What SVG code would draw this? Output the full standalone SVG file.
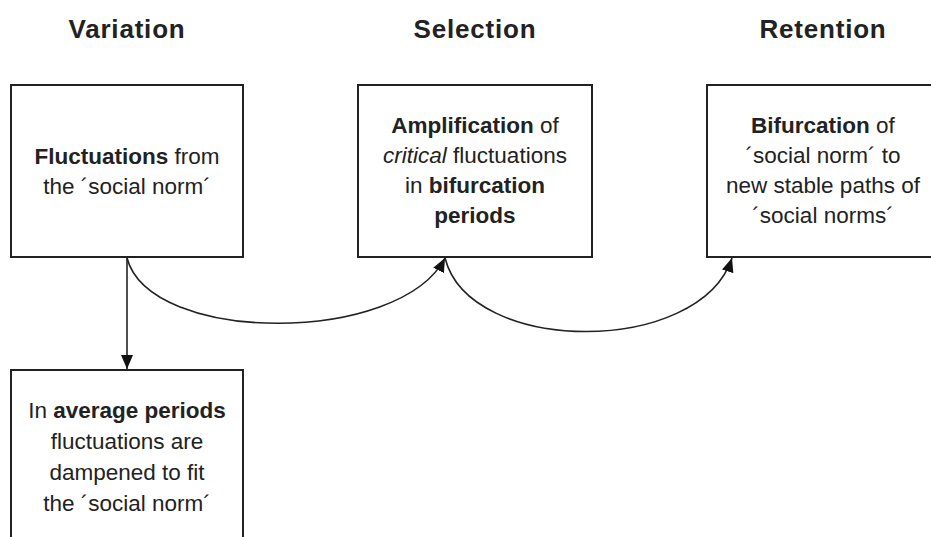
<svg xmlns="http://www.w3.org/2000/svg" width="931" height="537" viewBox="0 0 931 537">
<style>
.box{fill:#fff;stroke:#222;stroke-width:2}
.t{font-family:"Liberation Sans",Arial,sans-serif;font-size:22.5px;fill:#222;text-anchor:middle}
.h{font-family:"Liberation Sans",Arial,sans-serif;font-size:26px;font-weight:bold;fill:#222;text-anchor:middle;letter-spacing:0.8px}
.b{font-weight:bold}
.i{font-style:italic}
.c{fill:none;stroke:#222;stroke-width:1.6}
</style>
<defs>
<marker id="ah" markerWidth="14" markerHeight="12" refX="14" refY="6" orient="auto" markerUnits="userSpaceOnUse">
<path d="M0,0 L14,6 L0,12 Z" fill="#111"/>
</marker>
</defs>
<g id="titles">
<text class="h" x="127" y="38">Variation</text>
<text class="h" x="475" y="38">Selection</text>
<text class="h" x="823" y="38">Retention</text>
</g>
<g id="n1">
<rect class="box" x="11" y="85" width="232" height="172"/>
<text class="t" x="127" y="164"><tspan class="b">Fluctuations</tspan> from</text>
<text class="t" x="127" y="194">the ´social norm´</text>
</g>
<g id="n2">
<rect class="box" x="358" y="85" width="234" height="172"/>
<text class="t" x="475" y="133"><tspan class="b">Amplification</tspan> of</text>
<text class="t" x="475" y="163"><tspan class="i">critical</tspan> fluctuations</text>
<text class="t" x="475" y="193">in <tspan class="b">bifurcation</tspan></text>
<text class="t b" x="475" y="223">periods</text>
</g>
<g id="n3">
<rect class="box" x="707" y="85" width="234" height="172"/>
<text class="t" x="823" y="133"><tspan class="b">Bifurcation</tspan> of</text>
<text class="t" x="823" y="163">´social norm´ to</text>
<text class="t" x="823" y="193">new stable paths of</text>
<text class="t" x="823" y="223">´social norms´</text>
</g>
<g id="n4">
<rect class="box" x="11" y="370" width="232" height="180"/>
<text class="t" x="127" y="418">In <tspan class="b">average periods</tspan></text>
<text class="t" x="127" y="449">fluctuations are</text>
<text class="t" x="127" y="480">dampened to fit</text>
<text class="t" x="127" y="511">the ´social norm´</text>
</g>
<g id="connectors">
<path class="c" d="M127,257 L127,369" marker-end="url(#ah)"/>
<path class="c" d="M127,258 C150,345 400,345 445,258" marker-end="url(#ah)"/>
<path class="c" d="M445,258 C470,356 700,356 732,258" marker-end="url(#ah)"/>
</g>
</svg>
